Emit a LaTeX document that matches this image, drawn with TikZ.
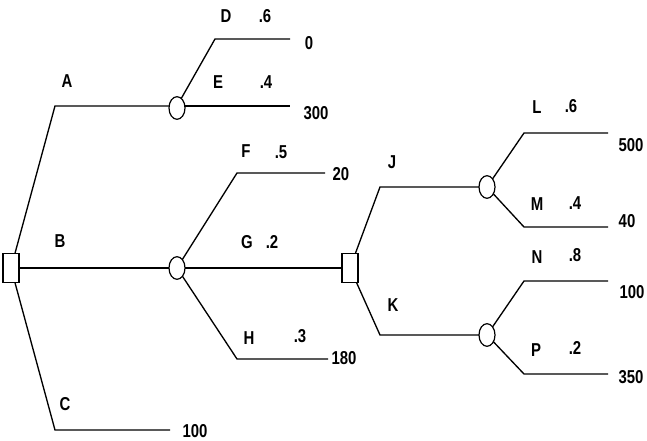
\documentclass[tikz,border=0pt]{standalone}
\usepackage{fontspec}
\setmainfont{Liberation Sans}
\usetikzlibrary{shapes.geometric}
\begin{document}
\begin{tikzpicture}[x=0.75pt,y=-0.75pt,
  dec/.style={draw,line width=0.9pt,fill=white,minimum width=12pt,minimum height=22pt,inner sep=0pt},
  chance/.style={draw,line width=0.9pt,fill=white,ellipse,minimum width=12pt,minimum height=17pt,inner sep=0pt},
  lab/.style={font=\fontsize{14}{15}\selectfont\bfseries,inner sep=0pt,xscale=0.8},
  br/.style={draw,line width=1pt}]
\useasboundingbox (0,0) rectangle (647,441);
% coordinates
\coordinate (aA) at (55,106); \coordinate (aC) at (55,430); \coordinate (eC) at (170,430);
\coordinate (aD) at (215,39); \coordinate (eD) at (290,39); \coordinate (eE) at (290,106);
\coordinate (aF) at (237,173); \coordinate (eF) at (325,173);
\coordinate (aH) at (237,359); \coordinate (eH) at (328,359);
\coordinate (aJ) at (380,187); \coordinate (aK) at (380,335);
\coordinate (aL) at (524,133); \coordinate (eL) at (608,133);
\coordinate (aM) at (524,227); \coordinate (eM) at (608,227);
\coordinate (aN) at (524,281); \coordinate (eN) at (608,281);
\coordinate (aP) at (524,374); \coordinate (eP) at (608,374);
\coordinate (s1c) at (11,268);
% lines
\draw[br] (s1c) -- (aA) -- (177,106);
\draw[br] (s1c) -- (177,268);
\draw[br] (s1c) -- (aC) -- (eC);
\draw[br] (177,106) -- (aD) -- (eD);
\draw[br] (177,106) -- (eE);
\draw[br] (177,268) -- (aF) -- (eF);
\draw[br] (177,268) -- (350,268);
\draw[br] (177,268) -- (aH) -- (eH);
\draw[br] (350,268) -- (aJ) -- (487,187);
\draw[br] (350,268) -- (aK) -- (487,335);
\draw[br] (487,187) -- (aL) -- (eL);
\draw[br] (487,187) -- (aM) -- (eM);
\draw[br] (487,335) -- (aN) -- (eN);
\draw[br] (487,335) -- (aP) -- (eP);
% nodes
\node[dec] (s1) at (11,268) {};
\node[dec] (s2) at (350,268) {};
\node[chance] (c1) at (177,108) {};
\node[chance] (c2) at (177,268) {};
\node[chance] (c3) at (487,187) {};
\node[chance] (c4) at (487,335) {};
% labels
\node[lab] (tA) at (67,81) {A};
\node[lab] (tB) at (60,241) {B};
\node[lab] (tC) at (65,404) {C};
\node[lab] (tD) at (226,16) {D}; \node[lab] (pD) at (265,16) {.6};
\node[lab] (tE) at (218,82) {E}; \node[lab] (pE) at (266,82) {.4};
\node[lab] (vD) at (309,43) {0}; \node[lab] (vE) at (316,113) {300};
\node[lab] (tF) at (246,151) {F}; \node[lab] (pF) at (281,152) {.5};
\node[lab] (tG) at (247,242) {G}; \node[lab] (pG) at (272,242) {.2};
\node[lab] (tH) at (249,338) {H}; \node[lab] (pH) at (300,336) {.3};
\node[lab] (vF) at (341,174) {20}; \node[lab] (vH) at (344,358) {180};
\node[lab] (vC) at (195,431) {100};
\node[lab] (tJ) at (392,162) {J}; \node[lab] (tK) at (393,305) {K};
\node[lab] (tL) at (537,107) {L}; \node[lab] (pL) at (571,106) {.6};
\node[lab] (tM) at (537,204) {M}; \node[lab] (pM) at (575,203) {.4};
\node[lab] (tN) at (537,257) {N}; \node[lab] (pN) at (575,255) {.8};
\node[lab] (tP) at (536,350) {P}; \node[lab] (pP) at (575,348) {.2};
\node[lab] (vL) at (631,145) {500}; \node[lab] (vM) at (627,221) {40};
\node[lab] (vN) at (632,292) {100}; \node[lab] (vP) at (631,377) {350};
\end{tikzpicture}
\end{document}
